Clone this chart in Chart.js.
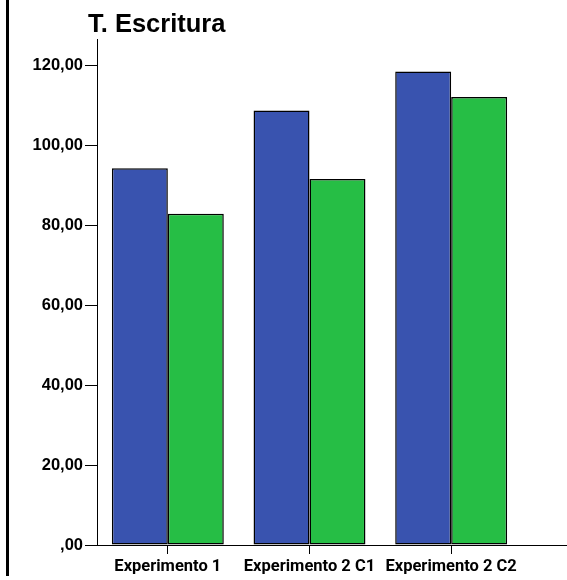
<!DOCTYPE html>
<html>
<head>
<meta charset="utf-8">
<script src="https://cdn.jsdelivr.net/npm/chart.js@4"></script>
<style>
  html, body { margin: 0; padding: 0; background: #ffffff; }
  #wrap { width: 567px; height: 580px; position: relative; }
</style>
</head>
<body>
<div id="wrap"><canvas id="chart" width="567" height="580"></canvas></div>
<script>
// datos
const categories = ["Experimento 1", "Experimento 2 C1", "Experimento 2 C2"];
const serieAzul = [94.2, 108.6, 118.4];
const serieVerde = [82.8, 91.5, 112.0];
const chartTitle = "T. Escritura";

const FONT = "'Liberation Sans', Arial, sans-serif";
const FONT_X = "Roboto, 'Liberation Sans', sans-serif";

// título y línea vertical izquierda, dibujados a mano
const decorPlugin = {
  id: "decor",
  afterDraw(chart) {
    const ctx = chart.ctx;
    const area = chart.chartArea;
    ctx.save();
    ctx.strokeStyle = "#000";
    ctx.lineWidth = 3;
    ctx.beginPath();
    ctx.moveTo(7.5, 0);
    ctx.lineTo(7.5, 576);
    ctx.stroke();

    // eje x se prolonga hasta el borde
    ctx.lineWidth = 1;
    ctx.beginPath();
    ctx.moveTo(area.left, Math.round(area.bottom) + 0.5);
    ctx.lineTo(chart.width, Math.round(area.bottom) + 0.5);
    ctx.stroke();

    ctx.fillStyle = "#000";
    ctx.font = "bold 25.5px " + FONT;
    ctx.textBaseline = "alphabetic";
    ctx.fillText(chartTitle, 88, 32);
    ctx.restore();
  },
};

new Chart(document.getElementById("chart"), {
  type: "bar",
  data: {
    labels: categories,
    datasets: [
      {
        data: serieAzul,
        backgroundColor: "#3953AF",
        borderColor: "#000",
        borderWidth: 1.5,
        borderSkipped: false,
      },
      {
        data: serieVerde,
        backgroundColor: "#26BE45",
        borderColor: "#000",
        borderWidth: 1.5,
        borderSkipped: false,
      },
    ],
  },
  plugins: [decorPlugin],
  options: {
    responsive: false,
    animation: false,
    layout: { padding: { top: 39, right: 45, left: 0, bottom: 0 } },
    datasets: {
      bar: { categoryPercentage: 0.79, barPercentage: 1.0 },
    },
    plugins: {
      legend: { display: false },
      tooltip: { enabled: false },
      title: { display: false },
    },
    scales: {
      x: {
        afterFit: (scale) => { scale.height = 35; },
        grid: {
          offset: false,
          drawOnChartArea: false,
          drawTicks: true,
          tickLength: 9,
          color: "#000",
        },
        border: { display: true, color: "#000", width: 1 },
        ticks: {
          color: "#000",
          padding: 3,
          maxRotation: 0,
          autoSkip: false,
          font: { family: FONT_X, size: 16.5, weight: "bold" },
        },
      },
      y: {
        min: 0,
        max: 126.5,
        afterFit: (scale) => { scale.width = 97; },
        grid: {
          drawOnChartArea: false,
          drawTicks: true,
          tickLength: 12,
          color: "#000",
        },
        border: { display: true, color: "#000", width: 1 },
        ticks: {
          stepSize: 20,
          includeBounds: false,
          color: "#000",
          padding: 2,
          font: { family: FONT, size: 16.5, weight: "bold" },
          callback: (v) => (v === 0 ? ",00" : v.toFixed(2).replace(".", ",")),
        },
      },
    },
  },
});
</script>
</body>
</html>
